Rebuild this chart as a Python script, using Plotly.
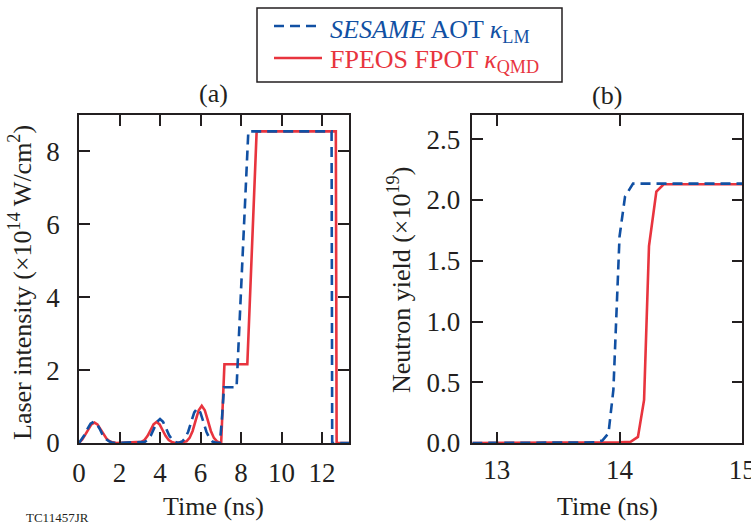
import plotly.graph_objects as go

# ---- (a) laser pulse shapes -------------------------------------------------
t_sesame = [0.0, 0.12, 0.27, 0.42, 0.57, 0.72, 0.87, 1.02, 1.17, 1.32, 1.47, 1.62, 1.8,
            3.25, 3.4, 3.55, 3.7, 3.85, 4.0, 4.15, 4.3, 4.45, 4.6, 4.75, 4.9,
            5.09, 5.24, 5.39, 5.54, 5.69, 5.84, 5.99, 6.14, 6.29, 6.44, 6.59, 6.75,
            6.95, 7.05, 7.16, 7.78, 8.36, 12.47, 12.5, 13.4]
i_sesame = [0.0, 0.10, 0.22, 0.39, 0.53, 0.58, 0.53, 0.39, 0.22, 0.11, 0.05, 0.015, 0.0,
            0.03, 0.09, 0.21, 0.40, 0.58, 0.66, 0.58, 0.40, 0.21, 0.09, 0.03, 0.0,
            0.04, 0.13, 0.31, 0.58, 0.84, 0.95, 0.84, 0.58, 0.31, 0.13, 0.04, 0.01,
            0.0, 0.6, 1.53, 1.53, 8.55, 8.55, 0.0, 0.0]

t_fpeos = [0.0, 0.16, 0.31, 0.46, 0.61, 0.76, 0.91, 1.06, 1.21, 1.36, 1.51, 1.66, 1.85,
           3.08, 3.23, 3.38, 3.53, 3.68, 3.83, 3.98, 4.13, 4.28, 4.43, 4.58, 4.75,
           5.31, 5.46, 5.61, 5.76, 5.91, 6.06, 6.21, 6.36, 6.51, 6.66, 6.81, 6.96,
           7.02, 7.18, 8.31, 8.77, 12.68, 12.72, 13.4]
i_fpeos = [0.0, 0.10, 0.23, 0.38, 0.51, 0.56, 0.51, 0.38, 0.23, 0.12, 0.05, 0.017, 0.0,
           0.03, 0.08, 0.19, 0.35, 0.51, 0.58, 0.51, 0.35, 0.19, 0.08, 0.03, 0.0,
           0.045, 0.14, 0.33, 0.62, 0.90, 1.02, 0.90, 0.62, 0.33, 0.14, 0.045, 0.01,
           0.02, 2.16, 2.16, 8.55, 8.55, 0.0, 0.0]

# ---- (b) cumulative neutron yield --------------------------------------------
ty_sesame = [12.8, 13.5, 13.8, 13.86, 13.91, 13.95, 13.98, 14.0, 14.045, 14.11, 14.3, 15.0]
y_sesame = [0.0, 0.0, 0.005, 0.02, 0.08, 0.44, 1.12, 1.70, 2.03, 2.135, 2.135, 2.135]

ty_fpeos = [12.8, 13.8, 14.0, 14.09, 14.15, 14.2, 14.24, 14.30, 14.36, 15.0]
y_fpeos = [0.0, 0.0, 0.005, 0.01, 0.05, 0.355, 1.62, 2.07, 2.13, 2.13]

xticks_a = [0, 2, 4, 6, 8, 10, 12]
yticks_a = [0, 2, 4, 6, 8]
xticks_b = [13, 14, 15]
yticks_b = [0.0, 0.5, 1.0, 1.5, 2.0, 2.5]

label_sesame = "<i>SESAME</i> AOT <i>κ</i><sub>LM</sub>"
label_fpeos = "FPEOS FPOT <i>κ</i><sub>QMD</sub>"

BLUE = "#1150a3"
RED = "#e8343e"
INK = "#231f20"
FONT = "Liberation Serif, Times New Roman, serif"
W, H = 751, 525


def px_x(x):
    return x / W


def px_y(y):
    return 1 - y / H


fig = go.Figure()

# red solid underneath, blue dashed on top
fig.add_trace(go.Scatter(x=t_fpeos, y=i_fpeos, mode="lines", xaxis="x", yaxis="y",
                         line=dict(color=RED, width=2.6), showlegend=False))
fig.add_trace(go.Scatter(x=t_sesame, y=i_sesame, mode="lines", xaxis="x", yaxis="y",
                         line=dict(color=BLUE, width=2.6, dash="10px,6px"), showlegend=False))
fig.add_trace(go.Scatter(x=ty_fpeos, y=y_fpeos, mode="lines", xaxis="x2", yaxis="y2",
                         line=dict(color=RED, width=2.6), showlegend=False))
fig.add_trace(go.Scatter(x=ty_sesame, y=y_sesame, mode="lines", xaxis="x2", yaxis="y2",
                         line=dict(color=BLUE, width=2.6, dash="10px,6px"), showlegend=False))

axis_common = dict(showline=True, linecolor=INK, linewidth=1.5, mirror="ticks",
                   ticks="inside", ticklen=11, tickwidth=1.5, tickcolor=INK,
                   showgrid=False, zeroline=False, ticklabeloverflow="allow",
                   automargin=False,
                   tickfont=dict(family=FONT, size=27, color=INK))

y_dom = [px_y(443), px_y(115)]

fig.update_layout(
    width=W, height=H,
    margin=dict(l=0, r=0, t=0, b=0, pad=0, autoexpand=False),
    paper_bgcolor="white", plot_bgcolor="white",
    font=dict(family=FONT, size=26, color=INK),
    xaxis=dict(domain=[px_x(79), px_x(349)], range=[0, 13.33],
               tickvals=xticks_a, anchor="y", ticklabelstandoff=5, **axis_common),
    yaxis=dict(domain=y_dom, range=[0, 9], tickvals=yticks_a, anchor="x",
               ticklabelstandoff=12, **axis_common),
    xaxis2=dict(domain=[px_x(472.3), px_x(742.3)], range=[12.8, 15.0005],
                tickvals=xticks_b, anchor="y2", ticklabelstandoff=2, **axis_common),
    yaxis2=dict(domain=y_dom, range=[0, 2.7], tickvals=yticks_b, tickformat=".1f",
                anchor="x2", ticklabelstandoff=5, **axis_common),
)

annotations = [
    dict(text="(a)", x=px_x(213), y=px_y(93)),
    dict(text="(b)", x=px_x(607), y=px_y(95)),
    dict(text="Time (ns)", x=px_x(214), y=px_y(506)),
    dict(text="Time (ns)", x=px_x(607), y=px_y(506)),
    dict(text="Laser intensity (×10<sup>14</sup> W/cm<sup>2</sup>)",
         x=px_x(20), y=px_y(283), textangle=-90),
    dict(text="Neutron yield (×10<sup>19</sup>)", x=px_x(399), y=px_y(280), textangle=-90),
    dict(text="TC11457JR", x=px_x(58), y=px_y(517), font=dict(size=13, family=FONT, color=INK)),
    dict(text=label_sesame, x=px_x(328), y=px_y(31), xanchor="left",
         font=dict(size=26, family=FONT, color=BLUE)),
    dict(text=label_fpeos, x=px_x(328), y=px_y(61), xanchor="left",
         font=dict(size=26, family=FONT, color=RED)),
]
for a in annotations:
    a.setdefault("xanchor", "center")
    a.setdefault("yanchor", "middle")
    a.update(xref="paper", yref="paper", showarrow=False)
fig.update_layout(annotations=annotations)

# legend frame and line keys
fig.update_layout(shapes=[
    dict(type="rect", xref="paper", yref="paper",
         x0=px_x(257), x1=px_x(562), y0=px_y(82), y1=px_y(8),
         line=dict(color=INK, width=1.5), fillcolor="rgba(0,0,0,0)"),
    dict(type="line", xref="paper", yref="paper",
         x0=px_x(274), x1=px_x(322), y0=px_y(26), y1=px_y(26),
         line=dict(color=BLUE, width=2.6, dash="10px,6px")),
    dict(type="line", xref="paper", yref="paper",
         x0=px_x(274), x1=px_x(322), y0=px_y(58), y1=px_y(58),
         line=dict(color=RED, width=2.6)),
])

fig.write_html("out.html")
